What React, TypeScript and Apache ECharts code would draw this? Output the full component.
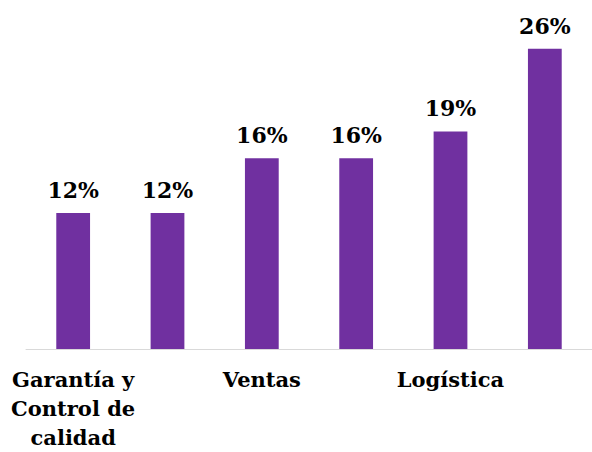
import React, { useEffect, useRef } from "react";
import * as echarts from "echarts";

const categories = [
  "Garantía y Control de calidad",
  "",
  "Ventas",
  "",
  "Logística",
  "",
];
const values = [11.7, 11.7, 16.4, 16.4, 18.7, 25.8];

const FONT = "'DejaVu Serif', serif";

export default function App() {
  const ref = useRef<HTMLDivElement>(null);
  useEffect(() => {
    if (!ref.current) return;
    const chart = echarts.init(ref.current, null, { renderer: "svg" });
    chart.setOption({
      animation: false,
      backgroundColor: "#ffffff",
      grid: { left: 26, width: 569, top: 0, height: 349.5 },
      xAxis: {
        type: "category",
        data: categories,
        axisLine: { show: true, lineStyle: { color: "#d9d9d9", width: 1 } },
        axisTick: { show: false },
        axisLabel: {
          interval: 1,
          margin: 16,
          color: "#000000",
          fontFamily: FONT,
          fontWeight: "bold",
          fontSize: 21,
          lineHeight: 29,
          width: 140,
          overflow: "break",
          align: "center",
        },
      },
      yAxis: {
        type: "value",
        min: 0,
        max: 30,
        show: false,
        splitLine: { show: false },
      },
      series: [
        {
          type: "bar",
          data: values,
          barWidth: "35.8%",
          itemStyle: { color: "#7030A0" },
          label: {
            show: true,
            position: "top",
            distance: 12,
            color: "#000000",
            fontFamily: FONT,
            fontWeight: "bold",
            fontSize: 22,
            formatter: (p: any) => Math.round(p.value) + "%",
          },
        },
      ],
    });
    return () => chart.dispose();
  }, []);
  return (
    <div
      ref={ref}
      style={{ position: "absolute", left: 0, top: 0, width: 592, height: 452 }}
    />
  );
}
